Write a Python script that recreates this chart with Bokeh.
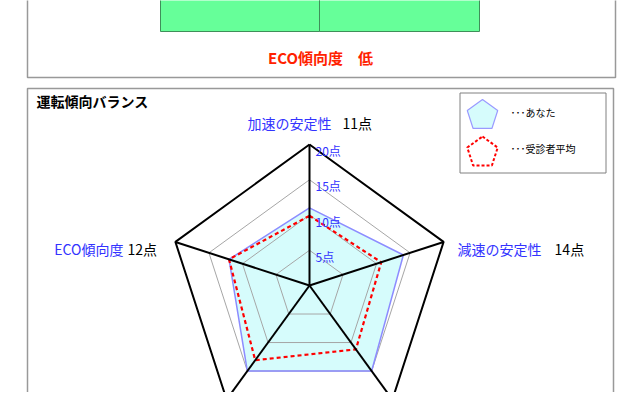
import math
from bokeh.plotting import figure
from bokeh.models import Range1d
from bokeh.core.properties import value
from bokeh.embed import file_html
from bokeh.resources import INLINE

# ---------------- data ----------------
axis_names = ["加速の安定性", "減速の安定性", "", "", "ECO傾向度"]
you_scores = [11, 14, 15, 15, 12]
avg_scores = [9.9, 10.7, 11.2, 13.1, 12.0]
ring_values = [5, 10, 15, 20]
ring_labels = ["5点", "10点", "15点", "20点"]
max_score = 20
eco_level = "ECO傾向度　低"
panel_title = "運転傾向バランス"
legend_labels = ["･･･あなた", "･･･受診者平均"]

FONT = "Noto Sans CJK JP"
BLUE_TXT = "#3333ff"

p = figure(width=624, height=392, x_range=Range1d(0, 624), y_range=Range1d(392, 0),
           output_backend="svg", toolbar_location=None, min_border=0)
p.axis.visible = False
p.grid.visible = False
p.outline_line_color = None
p.background_fill_color = "white"

# ---------------- top panel ----------------
p.quad(left=[160, 319], right=[319, 479], top=[-5, -5], bottom=[31, 31],
       fill_color="#66ff99", line_color="#3f8f5a", line_width=1)
p.line(x=[27, 27, 615, 615], y=[-5, 77, 77, -5], line_color="#999999", line_width=1.5)
p.text(x=[320], y=[57], text=[eco_level], text_color="#ff2200",
       text_font=value(FONT), text_font_size="15px", text_font_style="bold",
       text_align="center", text_baseline="middle")

# ---------------- bottom panel ----------------
p.line(x=[27, 27, 613, 613], y=[410, 88, 88, 410], line_color="#999999", line_width=1.5)
p.text(x=[36], y=[100], text=[panel_title], text_color="black",
       text_font=value(FONT), text_font_size="14px", text_font_style="bold",
       text_align="left", text_baseline="middle")

# legend
p.quad(left=[459.5], right=[605.5], top=[92.5], bottom=[172.5],
       fill_color=None, line_color="#808080", line_width=1)


def pent(cx, cy, r):
    xs, ys = [], []
    for i in range(5):
        t = math.radians(72 * i)
        xs.append(cx + r * math.sin(t))
        ys.append(cy - r * math.cos(t))
    return xs, ys


lx, ly = pent(482, 115, 16)
p.patch(lx, ly, fill_color="#d6fcfc", line_color="#9a9aff", line_width=1.2)
lx, ly = pent(482, 152, 16)
p.patch(lx + [lx[0]], ly + [ly[0]], fill_color=None, line_color="#ff0000",
        line_width=2, line_dash="3 2")
p.text(x=[510, 510], y=[112, 148], text=legend_labels, text_color="black",
       text_font=value(FONT), text_font_size="10px",
       text_align="left", text_baseline="middle")

# ---------------- radar ----------------
CX, CY, R = 309, 285, 141.0
n = len(you_scores)
angles = [2 * math.pi * i / n for i in range(n)]


def to_xy(vals):
    xs = [CX + v / max_score * R * math.sin(a) for v, a in zip(vals, angles)]
    ys = [CY - v / max_score * R * math.cos(a) for v, a in zip(vals, angles)]
    return xs, ys


yx, yy = to_xy(you_scores)
p.patch(yx, yy, fill_color="#d6fcfc", line_color=None)

ring_xs, ring_ys = [], []
for rv in ring_values[:-1]:
    xs, ys = to_xy([rv] * n)
    ring_xs.append(xs + [xs[0]])
    ring_ys.append(ys + [ys[0]])
p.multi_line(ring_xs, ring_ys, line_color="#a6a6a6", line_width=1)

p.patch(yx + [yx[0]], yy + [yy[0]], fill_color=None, line_color="#8c8cff", line_width=1.5)

ax_, ay_ = to_xy(avg_scores)
p.line(ax_ + [ax_[0]], ay_ + [ay_[0]], line_color="#ff0000", line_width=2.2, line_dash="4 3")

ox, oy = to_xy([max_score] * n)
p.multi_line([[CX, x] for x in ox], [[CY, y] for y in oy], line_color="black", line_width=2)
p.line(ox + [ox[0]], oy + [oy[0]], line_color="black", line_width=2)

# ring labels
rl_y = [CY - rv / max_score * R + 6 for rv in ring_values]
p.text(x=[CX + 6] * len(ring_values), y=rl_y, text=ring_labels, text_color=BLUE_TXT,
       text_font=value(FONT), text_font_size="12px",
       text_align="left", text_baseline="middle")

# axis labels (visible ones)
sc = [f"{v}点" for v in you_scores]
# top
p.text(x=[ox[0] + 22], y=[122], text=[axis_names[0]], text_color=BLUE_TXT,
       text_font=value(FONT), text_font_size="14px", text_align="right", text_baseline="middle")
p.text(x=[ox[0] + 33], y=[122], text=[sc[0]], text_color="black",
       text_font=value(FONT), text_font_size="14px", text_align="left", text_baseline="middle")
# right
p.text(x=[ox[1] + 14], y=[248], text=[axis_names[1]], text_color=BLUE_TXT,
       text_font=value(FONT), text_font_size="14px", text_align="left", text_baseline="middle")
p.text(x=[ox[1] + 111], y=[248], text=[sc[1]], text_color="black",
       text_font=value(FONT), text_font_size="14px", text_align="left", text_baseline="middle")
# left
p.text(x=[ox[4] - 52], y=[248], text=[axis_names[4]], text_color=BLUE_TXT,
       text_font=value(FONT), text_font_size="14px", text_align="right", text_baseline="middle")
p.text(x=[ox[4] - 48], y=[248], text=[sc[4]], text_color="black",
       text_font=value(FONT), text_font_size="14px", text_align="left", text_baseline="middle")

open("out.html", "w").write(file_html(p, INLINE))
